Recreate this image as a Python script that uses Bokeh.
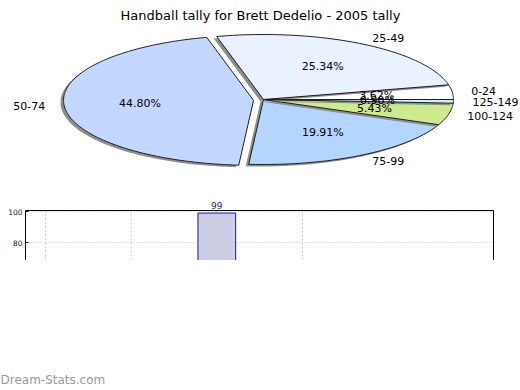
import math
from bokeh.plotting import figure
from bokeh.models import (Range1d, ColumnDataSource, LinearAxis, FixedTicker, Span)
from bokeh.layouts import column
from bokeh.embed import file_html
from bokeh.resources import INLINE
from bokeh.core.properties import value

# ---------------- data ----------------
title_text = "Handball tally for Brett Dedelio - 2005 tally"
categories = ["0-24", "25-49", "50-74", "75-99", "100-124", "125-149"]
shares = [3.62, 25.34, 44.80, 19.91, 5.43, 0.90]

bar_games = [3]
bar_tally = [99]
bar_grid_ticks = [1, 2, 3, 4]
y_ticks = [80, 100]
watermark_text = "Dream-Stats.com"

# ---------------- style ----------------
slice_colors = ["#FFFFFF", "#EAF1FF", "#C4D8FF", "#B4D5FF", "#CDEA8E", "#CCF0FF"]
explode_px = [0, 0, 10, 0, 0, 0]
FONT = "DejaVu Sans"
W = 520
FL, FR = 25, 493          # bar chart frame left / right (page px)
CX, CY, RX, RY = 263, 99, 190, 65
SH_DX, SH_DY = -3, 2

# ---------------- pie figure ----------------
pie = figure(width=W, height=200, x_range=Range1d(0, W), y_range=Range1d(200, 0),
             output_backend="svg", toolbar_location=None,
             x_axis_location=None, y_axis_location=None, min_border=0)
pie.grid.visible = False
pie.outline_line_color = None

total = sum(shares)
xs, ys, fills, lalpha = [], [], [], []
pct_x, pct_y, pct_t = [], [], []
lab_l = dict(x=[], y=[], t=[])
lab_r = dict(x=[], y=[], t=[])
a = 0.0
for i, v in enumerate(shares):
    a0 = a
    a1 = a + v / total * 2 * math.pi
    a = a1
    mid = (a0 + a1) / 2
    ex = CX + explode_px[i] * math.cos(mid)
    ey = CY - explode_px[i] * math.sin(mid)
    n = max(3, int(math.degrees(a1 - a0)) + 2)
    arc = [a0 + (a1 - a0) * k / (n - 1) for k in range(n)]
    px = [ex] + [ex + RX * math.cos(t) for t in arc]
    py = [ey] + [ey - RY * math.sin(t) for t in arc]
    xs.append([p + SH_DX for p in px]); ys.append([p + SH_DY for p in py])
    fills.append("#8E8E8E"); lalpha.append(0.0)
    xs.append(px); ys.append(py)
    fills.append(slice_colors[i]); lalpha.append(1.0)
    pct_x.append(ex + 0.6 * RX * math.cos(mid))
    pct_y.append(ey - 0.6 * RY * math.sin(mid))
    pct_t.append(f"{v:.2f}%")
    lx = ex + 1.1 * RX * math.cos(mid)
    ly = ey - 1.1 * RY * math.sin(mid)
    d = lab_l if math.cos(mid) >= 0 else lab_r
    d["x"].append(lx); d["y"].append(ly); d["t"].append(categories[i])

src = ColumnDataSource(dict(xs=xs, ys=ys, fill=fills, la=lalpha))
pie.patches("xs", "ys", source=src, fill_color="fill", line_color="#1E1E1E",
            line_alpha="la", line_width=1)

pie.text(x=pct_x, y=pct_y, text=pct_t, text_font=value(FONT), text_font_size="11px",
         text_align="center", text_baseline="middle", text_color="black")
pie.text(x=lab_l["x"], y=lab_l["y"], text=lab_l["t"], text_font=value(FONT),
         text_font_size="11px", text_align="left", text_baseline="middle",
         text_color="black")
pie.text(x=lab_r["x"], y=lab_r["y"], text=lab_r["t"], text_font=value(FONT),
         text_font_size="11px", text_align="right", text_baseline="middle",
         text_color="black")
pie.text(x=[260], y=[14.5], text=[title_text], text_font=value(FONT),
         text_font_size="13px", text_align="center", text_baseline="alphabetic",
         text_color="black")

# ---------------- bar figure ----------------
PXU = 31 / 20.0                     # px per tally unit
Y_TOP_FRAME = 100 + 1 / PXU         # value at the drawn top border
Y_LO = Y_TOP_FRAME - 50 / PXU       # value at the cut-off bottom
Y_HI = Y_TOP_FRAME + 10 / PXU       # room for the value label
bar = figure(width=W, height=60, x_range=Range1d(0.767, 6.23),
             y_range=Range1d(Y_LO, Y_HI), output_backend="svg",
             toolbar_location=None, x_axis_location=None,
             min_border_top=0, min_border_bottom=0, min_border_left=FL,
             min_border_right=W - FR)
bar.outline_line_color = None
bar.ygrid.ticker = FixedTicker(ticks=y_ticks)
bar.ygrid.grid_line_color = "#C4C4C4"
bar.ygrid.grid_line_dash = "1 2"
for g in bar.xgrid:
    g.visible = False

n_g = len(bar_grid_ticks)
bar.segment(x0=bar_grid_ticks, y0=[Y_LO] * n_g, x1=bar_grid_ticks,
            y1=[Y_TOP_FRAME] * n_g, line_color="#C4C4C4", line_dash="2 2",
            line_width=1)

ya = bar.yaxis[0]
ya.ticker = FixedTicker(ticks=y_ticks)
ya.bounds = (Y_LO, Y_TOP_FRAME)
ya.major_label_text_font = FONT
ya.major_label_text_font_size = "7.5px"
ya.major_label_text_color = "#222222"
ya.major_tick_in = 3
ya.major_tick_out = 0
ya.minor_tick_in = 0
ya.minor_tick_out = 0
ya.major_label_standoff = 3
ya.axis_line_color = "black"

rax = LinearAxis(ticker=FixedTicker(ticks=[]), bounds=(Y_LO, Y_TOP_FRAME),
                 major_tick_in=0, major_tick_out=0, minor_tick_in=0,
                 minor_tick_out=0, major_label_standoff=0, axis_line_color="black")
bar.add_layout(rax, "right")
bar.add_layout(Span(location=Y_TOP_FRAME, dimension="width", line_color="black",
                    line_width=1))

bsrc = ColumnDataSource(dict(x=bar_games, top=bar_tally,
                             lab=[str(v) for v in bar_tally]))
bar.vbar(x="x", top="top", bottom=0, width=0.44, source=bsrc,
         fill_color="#CCCCE4", line_color="#1A1A8A", line_width=1)
bar.text(x="x", y="top", text="lab", source=bsrc, y_offset=-4,
         text_align="center", text_baseline="bottom",
         text_font=value(FONT), text_font_size="9px", text_color="#1A237E")

# ---------------- watermark ----------------
wm = figure(width=W, height=130, x_range=Range1d(0, W), y_range=Range1d(390, 260),
            output_backend="svg", toolbar_location=None,
            x_axis_location=None, y_axis_location=None, min_border=0)
wm.grid.visible = False
wm.outline_line_color = None
wm.text(x=[0], y=[379.5], text=[watermark_text], text_font=value(FONT),
        text_font_size="12px", text_align="left", text_baseline="middle",
        text_color="#9A9A9A")

for f in (pie, bar, wm):
    try:
        f.frame_align = False
    except Exception:
        pass

p = column(pie, bar, wm, spacing=0)
open("out.html", "w").write(file_html(p, INLINE))
